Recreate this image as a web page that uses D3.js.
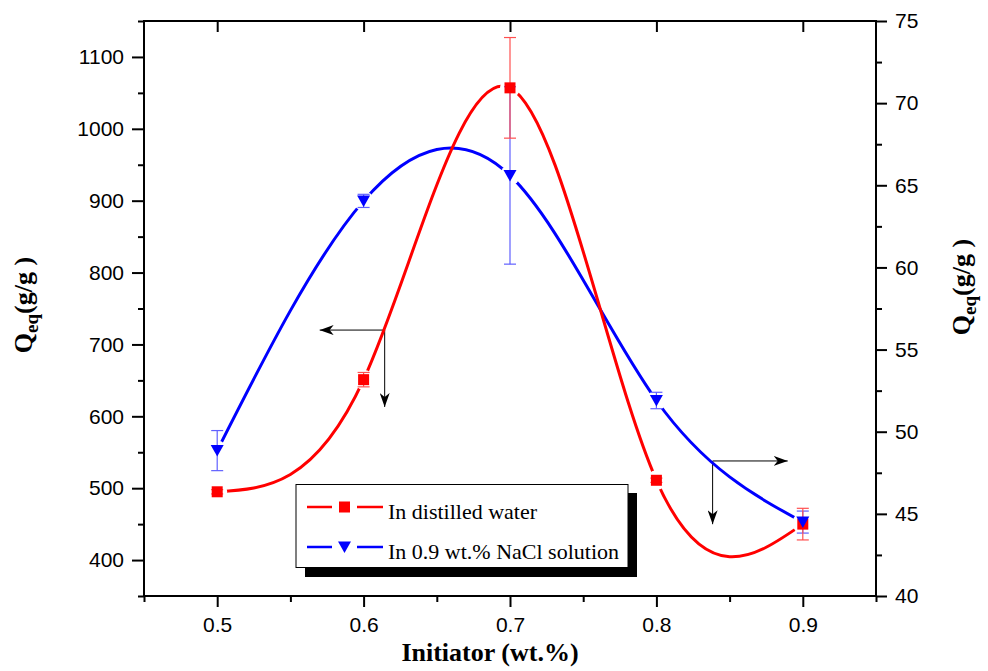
<!DOCTYPE html>
<html><head><meta charset="utf-8">
<script src="https://cdn.jsdelivr.net/npm/d3@7"></script>
<style>
html,body{margin:0;padding:0;background:#fff;}
svg{display:block;}
.tick text{font-family:"Liberation Sans",Arial,sans-serif;font-size:21px;fill:#000;}
</style></head>
<body><svg id="c" width="988" height="671"></svg>
<script>
// ---- data ----
const initiator = [0.5, 0.6, 0.7, 0.8, 0.9];
const waterQ = [495, 651, 1057, 511, 450];
const waterErr = [3, 10, 70, 3, 22];
const salineQ = [48.85, 64.05, 65.6, 51.9, 44.5];
const salineErr = [1.22, 0.4, 5.4, 0.5, 0.67];
const xMajorTicks = [0.5, 0.6, 0.7, 0.8, 0.9];
const xMinorTicks = [0.45, 0.55, 0.65, 0.75, 0.85, 0.95];
const yLeftMajor = [400, 500, 600, 700, 800, 900, 1000, 1100];
const yLeftMinor = [350, 450, 550, 650, 750, 850, 950, 1050, 1150];
const yRightMajor = [40, 45, 50, 55, 60, 65, 70, 75];
const yRightMinor = [42.5, 47.5, 52.5, 57.5, 62.5, 67.5, 72.5];
const seriesNames = ["In distilled water", "In 0.9 wt.% NaCl solution"];
// arrow annotations: corner point, horizontal tip x, vertical tip y (in data units of the series' axis)
const arrowLeft = {axis: "left", x: 0.6144, y: 720, tipX: 0.570, tipY: 613};
const arrowRight = {axis: "right", x: 0.8384, y: 48.22, tipX: 0.8897, tipY: 44.37};

// ---- scales ----
const L = 144, R = 876, T = 21, B = 596;
const x = d3.scaleLinear().domain([0.45, 0.95]).range([L, R]);
const yL = d3.scaleLinear().domain([350, 1150]).range([B, T]);
const yR = d3.scaleLinear().domain([40, 75]).range([B, T]);

const svg = d3.select("#c");
const defs = svg.append("defs");

// arrow marker
defs.append("marker").attr("id", "arr").attr("viewBox", "0 0 14 10")
  .attr("refX", 14).attr("refY", 5).attr("markerWidth", 14).attr("markerHeight", 10)
  .attr("markerUnits", "userSpaceOnUse").attr("orient", "auto")
  .append("path").attr("d", "M0,0 L14,5 L0,10 L4,5 Z").attr("fill", "#000");

// masks for line gaps around symbols
function makeMask(id, ys, yScale) {
  const m = defs.append("mask").attr("id", id).attr("maskUnits", "userSpaceOnUse")
    .attr("x", 0).attr("y", 0).attr("width", 988).attr("height", 671);
  m.append("rect").attr("width", 988).attr("height", 671).attr("fill", "#fff");
  m.selectAll("circle").data(initiator).join("circle")
    .attr("cx", d => x(d)).attr("cy", (d, i) => yScale(ys[i])).attr("r", 10).attr("fill", "#000");
}
makeMask("mWater", waterQ, yL);
makeMask("mSaline", salineQ, yR);

// ---- axes ----
function styleAxis(g) {
  g.selectAll(".domain").remove();
  g.selectAll(".tick line").attr("stroke", "#000").attr("stroke-width", 2);
}
// bottom
svg.append("g").attr("transform", `translate(0,${B})`)
  .call(d3.axisBottom(x).tickValues(xMinorTicks).tickSize(6).tickFormat(""))
  .call(styleAxis);
svg.append("g").attr("transform", `translate(0,${B})`)
  .call(d3.axisBottom(x).tickValues(xMajorTicks).tickSize(11).tickPadding(10).tickFormat(d3.format(".1f")))
  .call(styleAxis);
// top (inward major ticks)
svg.append("g").attr("transform", `translate(0,${T})`)
  .call(d3.axisBottom(x).tickValues(xMajorTicks).tickSize(11).tickFormat(""))
  .call(styleAxis);
// left
svg.append("g").attr("transform", `translate(${L},0)`)
  .call(d3.axisLeft(yL).tickValues(yLeftMinor).tickSize(6).tickFormat(""))
  .call(styleAxis);
svg.append("g").attr("transform", `translate(${L},0)`)
  .call(d3.axisLeft(yL).tickValues(yLeftMajor).tickSize(12).tickPadding(8).tickFormat(d3.format("d")))
  .call(styleAxis);
// right
svg.append("g").attr("transform", `translate(${R},0)`)
  .call(d3.axisRight(yR).tickValues(yRightMinor).tickSize(6).tickFormat(""))
  .call(styleAxis);
svg.append("g").attr("transform", `translate(${R},0)`)
  .call(d3.axisRight(yR).tickValues(yRightMajor).tickSize(11).tickPadding(8).tickFormat(d3.format("d")))
  .call(styleAxis);
// frame
svg.append("rect").attr("x", L).attr("y", T).attr("width", R - L).attr("height", B - T)
  .attr("fill", "none").attr("stroke", "#000").attr("stroke-width", 2);

// ---- arrows ----
function drawArrow(a) {
  const ys = a.axis === "left" ? yL : yR;
  const cx = x(a.x), cy = ys(a.y);
  svg.append("line").attr("x1", cx).attr("y1", cy).attr("x2", x(a.tipX)).attr("y2", cy)
    .attr("stroke", "#000").attr("stroke-width", 1).attr("marker-end", "url(#arr)");
  svg.append("line").attr("x1", cx).attr("y1", cy).attr("x2", cx).attr("y2", ys(a.tipY))
    .attr("stroke", "#000").attr("stroke-width", 1).attr("marker-end", "url(#arr)");
}
drawArrow(arrowLeft);
drawArrow(arrowRight);

// ---- curves ----
const lineL = d3.line().x((d, i) => x(initiator[i])).y(d => yL(d)).curve(d3.curveNatural);
const lineR = d3.line().x((d, i) => x(initiator[i])).y(d => yR(d)).curve(d3.curveNatural);
svg.append("path").attr("d", lineR(salineQ)).attr("fill", "none").attr("stroke", "#0000ff")
  .attr("stroke-width", 3).attr("mask", "url(#mSaline)");
svg.append("path").attr("d", lineL(waterQ)).attr("fill", "none").attr("stroke", "#ff0000")
  .attr("stroke-width", 3).attr("mask", "url(#mWater)");

// ---- error bars ----
function errBars(vals, errs, yScale, color) {
  const g = svg.append("g").attr("stroke", color).attr("stroke-width", 1.2);
  initiator.forEach((xv, i) => {
    const cx = x(xv), y1 = yScale(vals[i] + errs[i]), y2 = yScale(vals[i] - errs[i]);
    g.append("line").attr("x1", cx).attr("x2", cx).attr("y1", y1).attr("y2", y2);
    g.append("line").attr("x1", cx - 6).attr("x2", cx + 6).attr("y1", y1).attr("y2", y1);
    g.append("line").attr("x1", cx - 6).attr("x2", cx + 6).attr("y1", y2).attr("y2", y2);
  });
}
errBars(salineQ, salineErr, yR, "#6060ff");
errBars(waterQ, waterErr, yL, "#ff5050");

// ---- markers ----
const tri = "M-6.5,-5.5 L6.5,-5.5 L0,6 Z";
svg.append("g").selectAll("rect").data(waterQ).join("rect")
  .attr("x", (d, i) => x(initiator[i]) - 5.5).attr("y", d => yL(d) - 5.5)
  .attr("width", 11).attr("height", 11).attr("fill", "#ff0000");
svg.append("g").selectAll("path").data(salineQ).join("path")
  .attr("transform", (d, i) => `translate(${x(initiator[i])},${yR(d)})`)
  .attr("d", tri).attr("fill", "#0000ff");

// ---- legend ----
const lg = svg.append("g");
lg.append("rect").attr("x", 305).attr("y", 493).attr("width", 332).attr("height", 84).attr("fill", "#000");
lg.append("rect").attr("x", 296).attr("y", 484.5).attr("width", 332).attr("height", 83)
  .attr("fill", "#fff").attr("stroke", "#000").attr("stroke-width", 1);
const legendRows = [
  {name: seriesNames[0], color: "#ff0000", sym: "square", y: 507},
  {name: seriesNames[1], color: "#0000ff", sym: "tri", y: 547}
];
legendRows.forEach(r => {
  lg.append("line").attr("x1", 307).attr("x2", 332).attr("y1", r.y).attr("y2", r.y)
    .attr("stroke", r.color).attr("stroke-width", 2.5);
  lg.append("line").attr("x1", 357).attr("x2", 383).attr("y1", r.y).attr("y2", r.y)
    .attr("stroke", r.color).attr("stroke-width", 2.5);
  if (r.sym === "square") {
    lg.append("rect").attr("x", 344.5 - 5.5).attr("y", r.y - 5.5).attr("width", 11).attr("height", 11).attr("fill", r.color);
  } else {
    lg.append("path").attr("transform", `translate(344.5,${r.y})`).attr("d", tri).attr("fill", r.color);
  }
  lg.append("text").attr("x", 388).attr("y", r.y + 11.5)
    .attr("font-family", "'Liberation Serif','Times New Roman',serif").attr("font-size", 22)
    .text(r.name);
});

// ---- axis titles ----
svg.append("text").attr("x", 490).attr("y", 661).attr("text-anchor", "middle")
  .attr("font-family", "'Liberation Serif','Times New Roman',serif").attr("font-size", 26)
  .attr("font-weight", "bold").text("Initiator (wt.%)");

function yTitle(cx, cy) {
  const t = svg.append("text").attr("transform", `translate(${cx},${cy}) rotate(-90)`)
    .attr("text-anchor", "middle")
    .attr("font-family", "'Liberation Serif','Times New Roman',serif").attr("font-size", 26)
    .attr("font-weight", "bold");
  t.append("tspan").text("Q");
  t.append("tspan").attr("font-size", 19).attr("dy", 6).text("eq");
  t.append("tspan").attr("dy", -6).text("(g/g )");
}
yTitle(32, 305);
yTitle(970, 287);
</script></body></html>
